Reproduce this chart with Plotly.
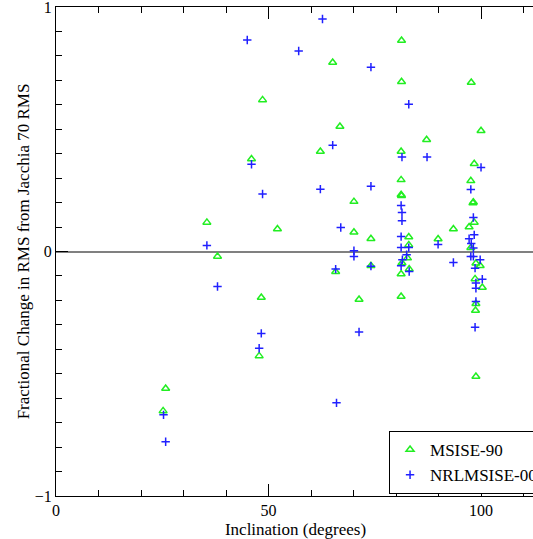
import plotly.graph_objects as go

# Inclination (deg) and fractional change in RMS relative to Jacchia 70
msise90_incl = [25.8, 25.2, 35.5, 38.0, 46.0, 48.6, 48.3, 47.8, 52.1, 62.2,
                65.1, 66.8, 65.8, 70.1, 70.1, 71.3, 74.1, 74.1, 81.3, 81.3,
                81.2, 81.2, 81.2, 81.3, 81.2, 81.2, 81.4, 83.0, 83.0, 82.7,
                83.1, 87.2, 89.9, 93.5, 97.7, 100.0, 98.4, 97.6, 98.2, 98.1,
                98.4, 97.2, 97.6, 98.8, 99.8, 98.6, 100.3, 98.8, 98.7, 98.8]
msise90_change = [-0.560, -0.652, 0.119, -0.020, 0.378, 0.620, -0.188, -0.427, 0.092, 0.409,
                  0.773, 0.511, -0.083, 0.204, 0.079, -0.196, 0.052, -0.058, 0.863, 0.694,
                  0.409, 0.293, 0.232, 0.228, -0.092, -0.184, -0.047, 0.059, 0.027, -0.027,
                  -0.072, 0.457, 0.051, 0.092, 0.691, 0.494, 0.359, 0.289, 0.202, 0.198,
                  0.119, 0.100, 0.015, -0.048, -0.058, -0.112, -0.147, -0.214, -0.241, -0.511]

nrlmsise00_incl = [25.3, 25.8, 35.5, 38.0, 45.0, 46.0, 48.6, 48.3, 47.8, 57.1,
                   62.7, 62.2, 65.1, 67.0, 65.8, 66.0, 70.1, 70.1, 71.3, 74.1,
                   74.1, 74.1, 81.4, 81.2, 81.4, 81.4, 81.2, 81.2, 81.5, 81.2,
                   83.0, 83.0, 82.5, 83.1, 87.3, 89.9, 93.5, 100.0, 97.6, 98.2,
                   98.4, 97.2, 97.7, 98.2, 97.6, 98.2, 99.8, 98.6, 100.3, 98.8,
                   98.8, 98.8, 98.6]
nrlmsise00_change = [-0.668, -0.778, 0.025, -0.143, 0.865, 0.357, 0.235, -0.335, -0.396, 0.820,
                     0.951, 0.255, 0.435, 0.098, -0.072, -0.619, 0.003, -0.020, -0.329, 0.754,
                     0.267, -0.060, 0.386, 0.188, 0.159, 0.126, 0.061, 0.016, -0.034, -0.058,
                     0.602, 0.016, -0.013, -0.082, 0.386, 0.029, -0.045, 0.344, 0.254, 0.139,
                     0.068, 0.052, 0.033, 0.014, -0.020, -0.020, -0.034, -0.068, -0.113, -0.129,
                     -0.150, -0.204, -0.310]

FONT = "Liberation Serif"

fig = go.Figure()
fig.add_trace(go.Scatter(
    x=msise90_incl, y=msise90_change, mode="markers", name="MSISE-90",
    marker=dict(symbol="triangle-up-open", size=7, color="#22ee22",
                line=dict(width=1.5, color="#22ee22")),
))
fig.add_trace(go.Scatter(
    x=nrlmsise00_incl, y=nrlmsise00_change, mode="markers", name="NRLMSISE-00",
    marker=dict(symbol="cross-thin-open", size=6, color="#2020ff",
                line=dict(width=1.5, color="#2020ff")),
))

# The page is wider than the viewport; the right edge of the figure is cut off.
fig.update_layout(
    width=566, height=539,
    margin=dict(l=56, r=31, t=7, b=43),
    paper_bgcolor="white", plot_bgcolor="white",
    font=dict(family=FONT, size=16, color="black"),
    showlegend=True,
    legend=dict(x=0.6953, y=0.004, xanchor="left", yanchor="bottom",
                bgcolor="white", bordercolor="black", borderwidth=1,
                font=dict(family=FONT, size=17, color="black"),
                tracegroupgap=0),
)

fig.update_xaxes(
    range=[0, 112.7], showgrid=False, zeroline=False, automargin=False,
    showline=True, linecolor="black", linewidth=1, mirror="ticks",
    ticks="inside", ticklen=12, tickwidth=1, tickcolor="black",
    tick0=0, dtick=50,
    minor=dict(ticks="inside", ticklen=6, dtick=10, tickwidth=1, tickcolor="black", showgrid=False),
    tickfont=dict(family=FONT, size=16, color="black"),
    title=dict(text="Inclination (degrees)", font=dict(family=FONT, size=17, color="black"), standoff=8),
)
fig.update_yaxes(
    range=[-1, 1], showgrid=False, automargin=False,
    zeroline=True, zerolinecolor="#808080", zerolinewidth=2,
    showline=True, linecolor="black", linewidth=1, mirror=False,
    ticks="inside", ticklen=12, tickwidth=1, tickcolor="black",
    tick0=-1, dtick=1, ticklabeloverflow="allow",
    minor=dict(ticks="inside", ticklen=6, dtick=0.1, tickwidth=1, tickcolor="black", showgrid=False),
    tickfont=dict(family=FONT, size=16, color="black"),
    title=dict(text="Fractional Change in RMS from Jacchia 70 RMS",
               font=dict(family=FONT, size=17, color="black"), standoff=0),
)

fig.write_html("out.html",
               post_script="document.documentElement.style.overflow='hidden';"
                           "document.body.style.overflow='hidden';")
